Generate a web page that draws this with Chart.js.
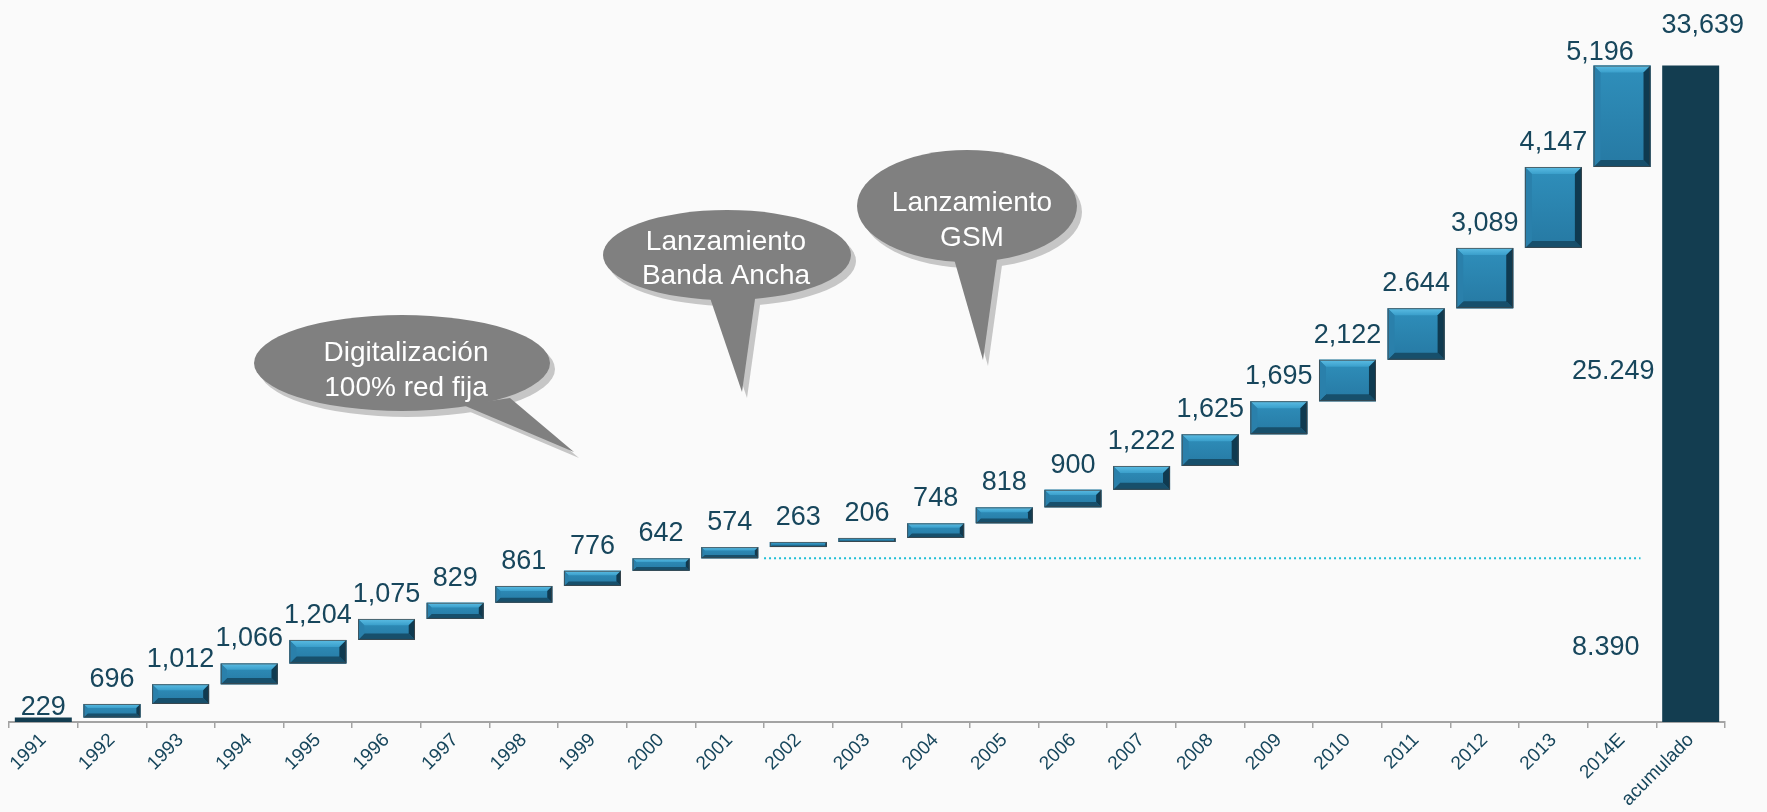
<!DOCTYPE html>
<html>
<head>
<meta charset="utf-8">
<script src="https://cdn.jsdelivr.net/npm/chart.js@4.4.0/dist/chart.umd.min.js"></script>
<style>
html, body { margin: 0; padding: 0; background: #fafafa; }
#contenedor { position: relative; width: 1767px; height: 812px; }
</style>
</head>
<body>
<div id="contenedor"><canvas id="grafico"></canvas></div>
<script>
// datos
var categorias = ['1991', '1992', '1993', '1994', '1995', '1996', '1997', '1998', '1999', '2000',
    '2001', '2002', '2003', '2004', '2005', '2006', '2007', '2008', '2009', '2010',
    '2011', '2012', '2013', '2014E', 'acumulado'];
var incrementos = [229, 696, 1012, 1066, 1204, 1075, 829, 861, 776, 642,
    574, 263, 206, 748, 818, 900, 1222, 1625, 1695, 2122,
    2644, 3089, 4147, 5196];
var totalAcumulado = 33639;
var etiquetas = ['229', '696', '1,012', '1,066', '1,204', '1,075', '829', '861', '776', '642',
    '574', '263', '206', '748', '818', '900', '1,222', '1,625', '1,695', '2,122',
    '2.644', '3,089', '4,147', '5,196', '33,639'];
var subtotales = ['25.249', '8.390'];
var alturaSubtotales = [17970, 3840];
var textosBurbujas = [
    ['Digitalización', '100% red fija'],
    ['Lanzamiento', 'Banda Ancha'],
    ['Lanzamiento', 'GSM']
];

var colorTexto = '#17465c';
var fuente = "'Liberation Sans', Arial, sans-serif";

// rangos flotantes de la cascada
var rangos = [];
var suma = 0;
incrementos.forEach(function (v) {
    rangos.push([suma, suma + v]);
    suma += v;
});
rangos.push([0, totalAcumulado]);
var base2000 = rangos[9][1];

var ultimo = categorias.length - 1;
var colores = categorias.map(function (c, i) {
    return (i === 0 || i === ultimo) ? '#133d50' : '#2a86b1';
});

function poligono(ctx, pts, color) {
    ctx.beginPath();
    ctx.moveTo(pts[0][0], pts[0][1]);
    for (var k = 1; k < pts.length; k++) ctx.lineTo(pts[k][0], pts[k][1]);
    ctx.closePath();
    ctx.fillStyle = color;
    ctx.fill();
}

// barras con bisel
var pluginBisel = {
    id: 'bisel',
    afterDatasetsDraw: function (chart) {
        var ctx = chart.ctx;
        var meta = chart.getDatasetMeta(0);
        meta.data.forEach(function (bar, i) {
            if (i === 0 || i === ultimo) return;
            var l = bar.x - bar.width / 2, r = bar.x + bar.width / 2;
            var t = Math.min(bar.y, bar.base), b = Math.max(bar.y, bar.base);
            var h = b - t;
            var s = Math.min(7, h * 0.3, bar.width * 0.2);
            ctx.save();
            var grad = ctx.createLinearGradient(0, t, 0, b);
            grad.addColorStop(0, '#2f8fbb');
            grad.addColorStop(1, '#2679a3');
            poligono(ctx, [[l, t], [r, t], [r, b], [l, b]], grad);
            var gTop = ctx.createLinearGradient(0, t, 0, t + s);
            gTop.addColorStop(0, '#5cbde4');
            gTop.addColorStop(1, '#3a9fcb');
            poligono(ctx, [[l, t], [r, t], [r - s, t + s], [l + s, t + s]], gTop);
            poligono(ctx, [[l, b], [r, b], [r - s, b - s], [l + s, b - s]], '#174f6b');
            poligono(ctx, [[l, t], [l + s, t + s], [l + s, b - s], [l, b]], '#2a80ab');
            poligono(ctx, [[r, t], [r - s, t + s], [r - s, b - s], [r, b]], '#0f3a50');
            ctx.strokeStyle = 'rgba(70,70,70,0.75)';
            ctx.lineWidth = 1;
            ctx.strokeRect(l + 0.5, t + 0.5, r - l - 1, Math.max(h - 1, 1));
            ctx.restore();
        });
    }
};

// etiquetas de valor, linea punteada y subtotales
var pluginEtiquetas = {
    id: 'etiquetas',
    afterDatasetsDraw: function (chart) {
        var ctx = chart.ctx;
        var meta = chart.getDatasetMeta(0);
        var xs = chart.scales.x, ys = chart.scales.y;
        ctx.save();
        ctx.font = '27px ' + fuente;
        ctx.fillStyle = colorTexto;
        ctx.textAlign = 'center';
        ctx.textBaseline = 'alphabetic';
        meta.data.forEach(function (bar, i) {
            var top = Math.min(bar.y, bar.base);
            var dx = 0, gap = 17;
            if (i === 0) gap = 3;
            if (i === 23) { dx = -22; gap = 6; }
            if (i === ultimo) { dx = 12; gap = 33; }
            ctx.fillText(etiquetas[i], bar.x + dx, top - gap);
        });

        // linea punteada al nivel de 2000
        var anchoCat = xs.width / categorias.length;
        var y0 = ys.getPixelForValue(base2000);
        var x0 = xs.getPixelForValue(11) - anchoCat / 2;
        var b23 = meta.data[23];
        var x1 = b23.x + b23.width / 2 - 10;
        ctx.beginPath();
        ctx.setLineDash([2, 3]);
        ctx.strokeStyle = '#1fbfd6';
        ctx.lineWidth = 2;
        ctx.moveTo(x0, y0);
        ctx.lineTo(x1, y0);
        ctx.stroke();
        ctx.setLineDash([]);

        // subtotales
        ctx.textAlign = 'left';
        ctx.textBaseline = 'middle';
        subtotales.forEach(function (txt, k) {
            ctx.fillText(txt, b23.x - 50, ys.getPixelForValue(alturaSubtotales[k]));
        });
        ctx.restore();
    }
};

// burbujas de texto
var pluginBurbujas = {
    id: 'burbujas',
    afterDraw: function (chart) {
        var ctx = chart.ctx;
        var formas = [
            { cx: 402, cy: 363, rx: 148, ry: 48, cola: [[463, 405], [510, 398], [574, 452]], tx: 406, ty: [353, 388] },
            { cx: 727, cy: 255, rx: 124, ry: 45, cola: [[708, 292], [756, 292], [742, 392]], tx: 726, ty: [242, 276] },
            { cx: 967, cy: 206, rx: 110, ry: 56, cola: [[952, 252], [998, 252], [983, 360]], tx: 972, ty: [203, 238] }
        ];
        ctx.save();
        formas.forEach(function (f, k) {
            // sombra
            ctx.fillStyle = '#c6c6c6';
            ctx.beginPath();
            ctx.ellipse(f.cx + 5, f.cy + 6, f.rx, f.ry, 0, 0, Math.PI * 2);
            ctx.fill();
            poligono(ctx, f.cola.map(function (p) { return [p[0] + 5, p[1] + 6]; }), '#c6c6c6');
            // cuerpo
            ctx.fillStyle = '#808080';
            ctx.beginPath();
            ctx.ellipse(f.cx, f.cy, f.rx, f.ry, 0, 0, Math.PI * 2);
            ctx.fill();
            poligono(ctx, f.cola, '#808080');
            ctx.fillStyle = '#ffffff';
            ctx.font = '28px ' + fuente;
            ctx.textAlign = 'center';
            ctx.textBaseline = 'middle';
            textosBurbujas[k].forEach(function (linea, j) {
                ctx.fillText(linea, f.tx, f.ty[j]);
            });
        });
        ctx.restore();
    }
};

var ctx = document.getElementById('grafico').getContext('2d');
var myChart = new Chart(ctx, {
    type: 'bar',
    data: {
        labels: categorias,
        datasets: [{
            data: rangos,
            backgroundColor: colores,
            borderWidth: 0,
            barPercentage: 0.83,
            categoryPercentage: 1.0
        }]
    },
    options: {
        responsive: true,
        maintainAspectRatio: false,
        animation: false,
        layout: { padding: { left: 9, right: 42, top: 0, bottom: 0 } },
        plugins: {
            legend: { display: false },
            tooltip: { enabled: false }
        },
        scales: {
            x: {
                grid: {
                    drawOnChartArea: false,
                    drawTicks: true,
                    tickLength: 6,
                    color: '#a3a3a3',
                    lineWidth: 1.5
                },
                border: { color: '#a3a3a3', width: 2 },
                ticks: {
                    minRotation: 45,
                    maxRotation: 45,
                    autoSkip: false,
                    padding: 1,
                    color: colorTexto,
                    font: { family: fuente, size: 19 }
                },
                afterFit: function (escala) { escala.height = 90; }
            },
            y: {
                display: false,
                min: 0,
                max: 37000
            }
        }
    },
    plugins: [pluginBisel, pluginEtiquetas, pluginBurbujas]
});
</script>
</body>
</html>
